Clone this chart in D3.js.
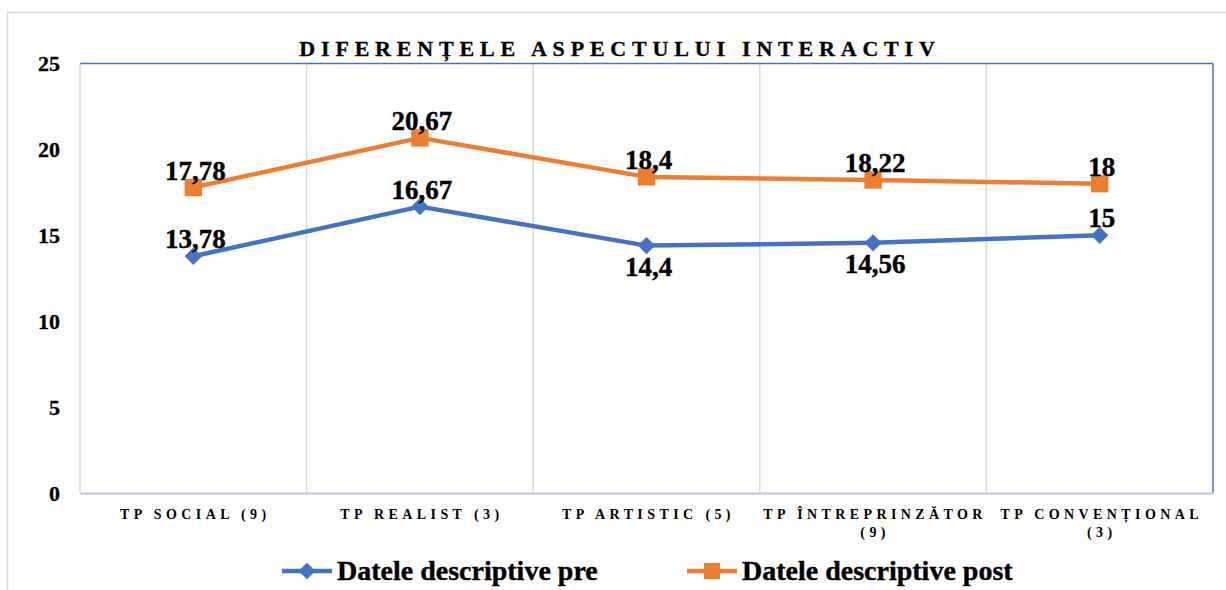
<!DOCTYPE html>
<html>
<head>
<meta charset="utf-8">
<script src="https://cdn.jsdelivr.net/npm/d3@7"></script>
<style>
  body { margin: 0; background: #fff; }
  svg, svg text { font-family: "Liberation Serif", "Times New Roman", Tinos, "DejaVu Serif", serif !important; }
</style>
</head>
<body>
<svg id="chart" width="1226" height="590"></svg>
<script>
// data
const categories = ["TP SOCIAL (9)", "TP REALIST (3)", "TP ARTISTIC (5)", "TP ÎNTREPRINZĂTOR (9)", "TP CONVENȚIONAL (3)"];
const preValues = [13.78, 16.67, 14.4, 14.56, 15];
const postValues = [17.78, 20.67, 18.4, 18.22, 18];
const preLabelSide = ["above", "above", "below", "below", "above"];
const postLabelSide = ["above", "above", "above", "above", "above"];
const yTicks = [0, 5, 10, 15, 20, 25];
const seriesNames = ["Datele descriptive pre", "Datele descriptive post"];

const title = "DIFERENȚELE ASPECTULUI INTERACTIV";
const blue = "#4472C4", orange = "#ED7D31";

const svg = d3.select("#chart");
const margin = { left: 80, top: 63.5, right: 13, bottom: 97 };
const width = 1226, height = 590;

// outer chart frame
svg.append("rect")
    .attr("x", 7.5).attr("y", 12.5)
    .attr("width", 1240).attr("height", 600)
    .attr("fill", "none").attr("stroke", "#d9d9d9").attr("stroke-width", 1.5);

let x = d3.scaleBand().domain(categories)
    .range([margin.left, width - margin.right]);
let y = d3.scaleLinear().domain([0, 25])
    .range([height - margin.bottom, margin.top]);

// vertical gridlines between categories
svg.append("g").selectAll("line")
    .data(categories.slice(1))
    .join("line")
    .attr("x1", d => x(d)).attr("x2", d => x(d))
    .attr("y1", y(25)).attr("y2", y(0))
    .attr("stroke", "#d9d9d9").attr("stroke-width", 1.5);

// plot frame: top + right blue, left grey, bottom axis
svg.append("line").attr("x1", x.range()[0]).attr("x2", x.range()[1])
    .attr("y1", y(25)).attr("y2", y(25)).attr("stroke", blue).attr("stroke-width", 1.5);
svg.append("line").attr("x1", x.range()[1]).attr("x2", x.range()[1])
    .attr("y1", y(25)).attr("y2", y(0)).attr("stroke", blue).attr("stroke-width", 1.5);
svg.append("line").attr("x1", x.range()[0]).attr("x2", x.range()[0])
    .attr("y1", y(25)).attr("y2", y(0)).attr("stroke", "#d9d9d9").attr("stroke-width", 1.5);

// y axis labels
let yAxis = svg.append("g")
    .attr("transform", `translate(${margin.left},0)`)
    .call(d3.axisLeft(y).tickValues(yTicks).tickSize(0).tickPadding(20));
yAxis.attr("font-family", null);
yAxis.select(".domain").remove();
yAxis.selectAll("text")
    .attr("font-weight", "bold")
    .attr("font-size", 22).attr("fill", "#000")
    .attr("stroke", "#000").attr("stroke-width", 0.3);

// x axis
let xAxis = svg.append("g")
    .attr("transform", `translate(0,${y(0)})`)
    .call(d3.axisBottom(x).tickSize(0).tickFormat(""));
xAxis.select(".domain").attr("stroke", "#c9d0dc").attr("stroke-width", 2.5);

// x labels, wrapped to band width
let xLabels = svg.append("g").selectAll("text")
    .data(categories)
    .join("text")
    .attr("text-anchor", "middle")
    .attr("font-weight", "bold").attr("font-size", 14)
    .attr("letter-spacing", 4.4)
    .attr("fill", "#000");
xLabels.each(function (d) {
    let t = d3.select(this);
    let cx = x(d) + x.bandwidth() / 2;
    let words = d.split(" ");
    // long labels push their last word to a second line
    let lines = [d];
    if (d.length > 16) lines = [words.slice(0, -1).join(" "), words[words.length - 1]];
    lines.forEach((ln, i) => {
        t.append("tspan").attr("x", cx + 2).attr("y", y(0) + 26 + i * 18).text(ln);
    });
});

// title
svg.append("text")
    .attr("x", 620).attr("y", 56)
    .attr("text-anchor", "middle")
    .attr("font-weight", "bold").attr("font-size", 22)
    .attr("letter-spacing", 5.8)
    .attr("stroke", "#000").attr("stroke-width", 0.3)
    .text(title);

// lines
let line = d3.line()
    .x((d, i) => x(categories[i]) + x.bandwidth() / 2)
    .y(d => y(d));

function drawSeries(values, color, marker, sides) {
    let g = svg.append("g");
    g.append("path").datum(values)
        .attr("d", line)
        .attr("fill", "none").attr("stroke", color).attr("stroke-width", 4.5)
        .attr("stroke-linejoin", "round");
    let sym = d3.symbol().type(d3.symbolSquare)
        .size(marker === "square" ? 300 : 150);
    g.selectAll("path.mk").data(values).join("path")
        .attr("class", "mk")
        .attr("d", sym)
        .attr("transform", (d, i) => `translate(${x(categories[i]) + x.bandwidth() / 2},${y(d)})` + (marker === "diamond" ? " rotate(45)" : ""))
        .attr("fill", color);
    g.selectAll("text").data(values).join("text")
        .attr("x", (d, i) => x(categories[i]) + x.bandwidth() / 2 + 2)
        .attr("y", (d, i) => y(d) + (sides[i] === "above" ? -8 : 30))
        .attr("text-anchor", "middle")
        .attr("font-weight", "bold").attr("font-size", 27)
        .attr("fill", "#000")
        .attr("stroke", "#000").attr("stroke-width", 0.4)
        .text(d => String(d).replace(".", ","));
}
drawSeries(preValues, blue, "diamond", preLabelSide);
drawSeries(postValues, orange, "square", postLabelSide);

// legend
let legend = svg.append("g");
let legendX = [282, 687];
let colors = [blue, orange];
seriesNames.forEach((name, i) => {
    let lg = legend.append("g").attr("transform", `translate(${legendX[i]},571)`);
    lg.append("line").attr("x1", 0).attr("x2", 50).attr("stroke", colors[i]).attr("stroke-width", 4.5);
    lg.append("path")
        .attr("d", d3.symbol().type(d3.symbolSquare).size(i === 0 ? 140 : 260))
        .attr("transform", `translate(25,0)` + (i === 0 ? " rotate(45)" : ""))
        .attr("fill", colors[i]);
    lg.append("text").attr("x", 55).attr("y", 8.5)
        .attr("font-weight", "bold").attr("font-size", 28)
        .attr("stroke", "#000").attr("stroke-width", 0.4)
        .text(name);
});
</script>
</body>
</html>
